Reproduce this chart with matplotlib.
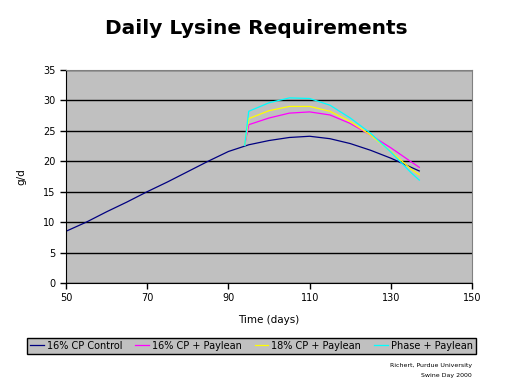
import matplotlib.pyplot as plt

# Data
control_days = [50, 55, 60, 65, 70, 75, 80, 85, 90, 95, 100, 105, 110, 115, 120, 125, 130, 135, 137]
control = [8.5, 10.0, 11.7, 13.3, 15.0, 16.6, 18.3, 20.0, 21.6, 22.7, 23.4, 23.9, 24.1, 23.7, 22.9, 21.8, 20.5, 19.0, 18.4]

paylean_days = [94, 95, 100, 105, 110, 115, 120, 125, 130, 135, 137]
cp16_paylean = [22.6, 26.0, 27.1, 27.9, 28.1, 27.6, 26.2, 24.3, 22.2, 19.9, 19.0]
cp18_paylean = [22.6, 27.0, 28.3, 29.0, 29.0, 28.2, 26.5, 24.3, 21.6, 18.7, 17.8]
phase_paylean = [22.6, 28.2, 29.6, 30.4, 30.3, 29.2, 27.1, 24.6, 21.5, 18.1, 16.9]

labels = ["16% CP Control", "16% CP + Paylean", "18% CP + Paylean", "Phase + Paylean"]
colors = ["#000080", "#FF00FF", "#FFFF00", "#00FFFF"]

fig = plt.figure(figsize=(5.12, 3.84), dpi=100)
ax = fig.add_axes([0.129, 0.263, 0.793, 0.555])
ax.set_facecolor("#C0C0C0")

ax.plot(control_days, control, color=colors[0], lw=0.9, label=labels[0])
ax.plot(paylean_days, cp16_paylean, color=colors[1], lw=0.9, label=labels[1])
ax.plot(paylean_days, cp18_paylean, color=colors[2], lw=0.9, label=labels[2])
ax.plot(paylean_days, phase_paylean, color=colors[3], lw=0.9, label=labels[3])

ax.set_xlim(50, 150)
ax.set_ylim(0, 35)
ax.set_xticks(range(50, 151, 20))
ax.set_yticks(range(0, 36, 5))
ax.yaxis.grid(True, color="black", lw=1)
ax.set_axisbelow(True)
ax.tick_params(labelsize=7, length=4, width=1, direction="out")
for s in ["top", "right"]:
    ax.spines[s].set_color("#808080")
for s in ["left", "bottom"]:
    ax.spines[s].set_color("black")

ax.set_xlabel("Time (days)", fontsize=7.5, labelpad=8)
ax.set_ylabel("g/d", fontsize=7.5, labelpad=12)
fig.text(0.5, 0.925, "Daily Lysine Requirements",
         ha="center", va="center", fontsize=14.5, fontweight="bold")

leg = fig.legend(loc="center", bbox_to_anchor=(0.491, 0.1), ncol=4, fontsize=7,
                 frameon=True, fancybox=False, handlelength=1.4, handletextpad=0.3,
                 columnspacing=1.35, borderpad=0.3)
leg.get_frame().set_facecolor("#C0C0C0")
leg.get_frame().set_edgecolor("black")
leg.get_frame().set_alpha(1)

fig.text(0.922, 0.049, "Richert, Purdue University", ha="right", va="center", fontsize=4.5)
fig.text(0.922, 0.023, "Swine Day 2000", ha="right", va="center", fontsize=4.5)

fig.savefig("out.png", dpi=100)
